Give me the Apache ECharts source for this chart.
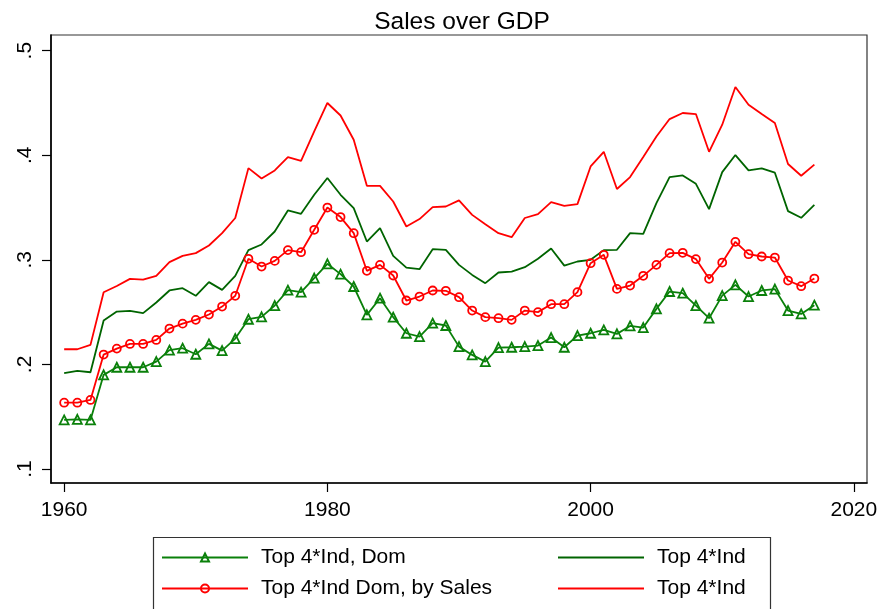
<!DOCTYPE html>
<html>
<head>
<meta charset="utf-8">
<script src="https://cdn.jsdelivr.net/npm/echarts@6/dist/echarts.min.js"></script>
<style>html,body{margin:0;padding:0;background:#fff}#c{width:883px;height:609px}</style>
</head>
<body>
<div id="c"></div>
<script>
const years = [];
for (let y = 1960; y <= 2017; y++) years.push(y);

const xTicks = [1960, 1980, 2000, 2020];
const yTicks = [0.1, 0.2, 0.3, 0.4, 0.5];

const topIndDom = [0.1469,0.1475,0.1469,0.19,0.1973,0.1973,0.1973,0.2027,0.2136,0.2155,
  0.2097,0.2196,0.2132,0.2247,0.2432,0.2455,0.2563,0.271,0.2691,0.2825,
  0.2962,0.2863,0.2745,0.2474,0.2633,0.2452,0.2298,0.2266,0.2394,0.2372,
  0.217,0.2091,0.2027,0.2161,0.2164,0.217,0.218,0.2257,0.2164,0.2276,
  0.2298,0.233,0.2292,0.2368,0.2352,0.2531,0.2697,0.2681,0.2563,0.2442,
  0.2658,0.2761,0.2649,0.2707,0.272,0.2515,0.2483,0.2566];

const topIndDomSales = [0.1634,0.1634,0.166,0.2094,0.2151,0.2196,0.2196,0.2234,0.2343,0.239,
  0.2426,0.2477,0.2553,0.2656,0.301,0.2936,0.299,0.3093,0.3073,0.3287,
  0.35,0.3409,0.3255,0.2895,0.2952,0.285,0.2611,0.2649,0.2707,0.2704,
  0.2643,0.2515,0.2452,0.2442,0.2426,0.2515,0.25,0.2576,0.2576,0.2691,
  0.2968,0.3048,0.2722,0.2754,0.2847,0.2952,0.3064,0.3067,0.3007,0.2818,
  0.2974,0.3172,0.3054,0.3032,0.3022,0.2802,0.2748,0.2821];

const topIndGreen = [0.1916,0.1938,0.1925,0.2419,0.2505,0.2512,0.249,0.2592,0.2707,0.2729,
  0.2656,0.2787,0.2713,0.2847,0.3093,0.3147,0.3271,0.3472,0.344,0.3622,
  0.3782,0.3622,0.3495,0.3175,0.3303,0.3038,0.2926,0.2911,0.3102,0.3096,
  0.2952,0.2856,0.2777,0.2879,0.2888,0.293,0.301,0.3108,0.2945,0.2984,
  0.300,0.3093,0.3096,0.3255,0.3249,0.3542,0.3791,0.3807,0.3727,0.3485,
  0.3839,0.4002,0.3855,0.3874,0.3833,0.3466,0.3402,0.3526];

const topIndRed = [0.2145,0.2145,0.2187,0.269,0.275,0.2818,0.281,0.2847,0.2978,0.3038,
  0.3064,0.3137,0.3255,0.340,0.3877,0.3778,0.3855,0.3983,0.3947,0.4228,
  0.45,0.438,0.4148,0.3708,0.3708,0.3558,0.3319,0.339,0.3504,0.351,
  0.3568,0.343,0.3341,0.3255,0.3217,0.340,0.3437,0.3552,0.3517,0.3533,
  0.3893,0.4033,0.3677,0.3791,0.3983,0.418,0.4346,0.4404,0.4394,0.4033,
  0.4292,0.4653,0.4483,0.4394,0.4308,0.3916,0.3804,0.391];

const names = ['Top 4*Ind, Dom', 'Top 4*Ind Dom, by Sales', 'Top 4*Ind (green)', 'Top 4*Ind (red)'];
const pair = arr => years.map((y, i) => [y, arr[i]]);

const FONT = '"Liberation Sans", Arial, sans-serif';
const GREEN_TRI = '#0a800a';
const GREEN = '#006400';
const RED = '#ff0000';

const legendFmt = n => n.indexOf('(') > 0 ? 'Top 4*Ind' : n;
function leg(name, left, top, plain) {
  const item = plain
    ? {name: name, itemStyle: {color: 'rgba(0,0,0,0)', borderColor: 'rgba(0,0,0,0)', borderWidth: 0}}
    : {name: name};
  return {
    data: [item], left: left, top: top, padding: 0,
    itemWidth: 86, itemHeight: 10, selectedMode: false,
    formatter: legendFmt,
    textStyle: {fontFamily: FONT, fontSize: 21, color: '#000', padding: [0, 0, 0, 8]}
  };
}

const chart = echarts.init(document.getElementById('c'), null, {renderer: 'canvas'});
chart.setOption({
  animation: false,
  backgroundColor: '#fff',
  title: {
    text: 'Sales over GDP', left: 457, textAlign: 'center', top: 5,
    textStyle: {fontFamily: FONT, fontSize: 24.5, fontWeight: 'normal', color: '#000'}
  },
  grid: {left: 51, top: 35, right: 16, bottom: 126, show: true, borderColor: '#333', borderWidth: 1.2},
  xAxis: {
    type: 'value', min: 1959, max: 2021,
    splitLine: {show: false},
    axisLine: {show: true, onZero: false, lineStyle: {color: '#000', width: 1.6}},
    axisTick: {show: true, customValues: xTicks, length: 9, lineStyle: {color: '#000', width: 1.2}},
    axisLabel: {customValues: xTicks, margin: 17, fontFamily: FONT, fontSize: 21, color: '#000',
      formatter: v => String(Math.round(v))}
  },
  yAxis: {
    type: 'value', min: 0.0866, max: 0.515,
    splitLine: {show: false},
    axisLine: {show: true, onZero: false, lineStyle: {color: '#000', width: 1.6}},
    axisTick: {show: true, customValues: yTicks, length: 9, lineStyle: {color: '#000', width: 1.2}},
    axisLabel: {customValues: yTicks, rotate: 90, margin: 15, fontFamily: FONT, fontSize: 21, color: '#000',
      formatter: v => (Math.round(v * 10) / 10).toString().replace(/^0/, '')}
  },
  legend: [
    leg(names[0], 161, 547, false),
    leg(names[2], 557, 547, true),
    leg(names[1], 161, 578, false),
    leg(names[3], 557, 578, true)
  ],
  graphic: [{
    type: 'rect', left: 151, top: 535,
    shape: {width: 617, height: 72},
    style: {fill: 'none', stroke: '#333', lineWidth: 1.2}, silent: true
  }],
  series: [
    {name: names[0], type: 'line', data: pair(topIndDom), symbol: 'triangle', symbolSize: 9,
      lineStyle: {color: GREEN_TRI, width: 1.8}, itemStyle: {color: 'rgba(0,0,0,0)', borderColor: GREEN_TRI, borderWidth: 1.8}, z: 4},
    {name: names[1], type: 'line', data: pair(topIndDomSales), symbol: 'circle', symbolSize: 8,
      lineStyle: {color: RED, width: 1.8}, itemStyle: {color: 'rgba(0,0,0,0)', borderColor: RED, borderWidth: 1.8}, z: 3},
    {name: names[2], type: 'line', data: pair(topIndGreen), symbol: 'none',
      lineStyle: {color: GREEN, width: 1.8}, itemStyle: {color: GREEN}, z: 2},
    {name: names[3], type: 'line', data: pair(topIndRed), symbol: 'none',
      lineStyle: {color: RED, width: 1.8}, itemStyle: {color: RED}, z: 1}
  ]
});
</script>
</body>
</html>
